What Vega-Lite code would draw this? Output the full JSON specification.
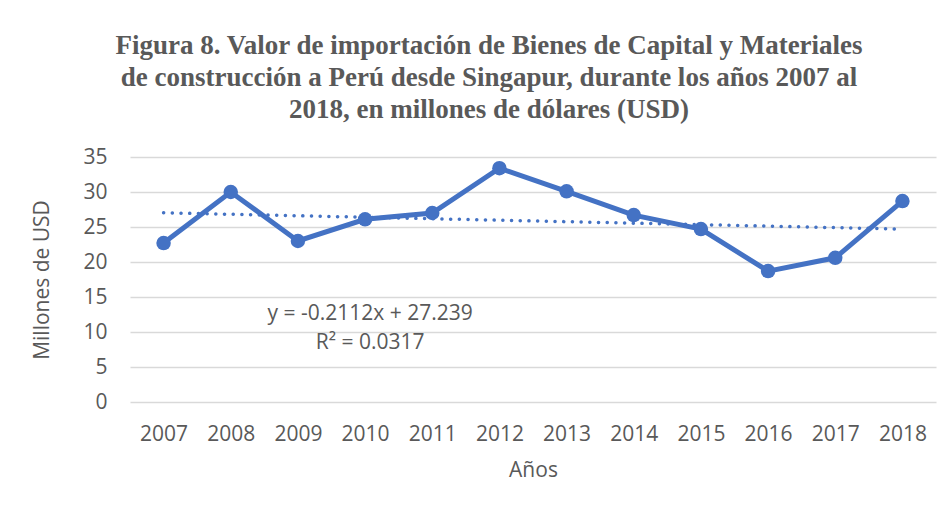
{
  "$schema": "https://vega.github.io/schema/vega-lite/v6.json",
  "width": 806,
  "height": 245,
  "autosize": "none",
  "padding": {"left": 130, "top": 157, "right": 15, "bottom": 110},
  "background": "white",
  "title": {
    "text": [
      "Figura 8. Valor de importación de Bienes de Capital y Materiales",
      "de construcción a Perú desde Singapur, durante los años 2007 al",
      "2018, en millones de dólares (USD)"
    ],
    "font": "Liberation Serif",
    "fontSize": 27,
    "fontWeight": "bold",
    "color": "#595959",
    "anchor": "middle",
    "dx": -44,
    "offset": 22,
    "lineHeight": 32
  },
  "encoding": {
    "x": {
      "field": "year", "type": "ordinal",
      "scale": {"type": "point", "padding": 0.5},
      "axis": {
        "title": "Años", "labelAngle": 0, "domain": false, "ticks": false,
        "labelPadding": 21, "titlePadding": 15,
        "labelFont": "Open Sans", "labelFontSize": 21, "labelColor": "#595959",
        "titleFont": "Open Sans", "titleFontSize": 21, "titleColor": "#595959", "titleFontWeight": "normal"
      }
    },
    "y": {
      "field": "value", "type": "quantitative",
      "scale": {"domain": [0, 35]},
      "axis": {
        "title": "Millones de USD", "values": [0, 5, 10, 15, 20, 25, 30, 35],
        "labelOverlap": false,
        "domain": false, "ticks": false, "labelPadding": 23, "titlePadding": 30,
        "gridColor": "#d9d9d9", "gridWidth": 1.5,
        "labelFont": "Open Sans", "labelFontSize": 21, "labelColor": "#595959",
        "titleFont": "Open Sans", "titleFontSize": 21, "titleColor": "#595959", "titleFontWeight": "normal"
      }
    }
  },
  "layer": [
    {
      "data": {"values": [{"year": "2007", "value": 27.03}, {"year": "2018", "value": 24.70}]},
      "mark": {"type": "line", "color": "#4472C4", "strokeWidth": 3.5, "strokeDash": [0.1, 8.6], "strokeCap": "round"}
    },
    {
      "data": {
        "values": [
          {"year": "2007", "value": 22.7},
          {"year": "2008", "value": 30.0},
          {"year": "2009", "value": 23.0},
          {"year": "2010", "value": 26.1},
          {"year": "2011", "value": 27.0},
          {"year": "2012", "value": 33.4},
          {"year": "2013", "value": 30.1},
          {"year": "2014", "value": 26.7},
          {"year": "2015", "value": 24.7},
          {"year": "2016", "value": 18.7},
          {"year": "2017", "value": 20.6},
          {"year": "2018", "value": 28.7}
        ]
      },
      "mark": {"type": "line", "color": "#4472C4", "strokeWidth": 5, "point": {"filled": true, "size": 210, "color": "#4472C4", "opacity": 1}}
    },
    {
      "data": {
        "values": [
          {"year": "2010", "value": 12.6, "label": "y = -0.2112x + 27.239"},
          {"year": "2010", "value": 8.4, "label": "R² = 0.0317"}
        ]
      },
      "mark": {"type": "text", "font": "Open Sans", "fontSize": 21, "color": "#595959", "dx": 5, "baseline": "middle", "align": "center"},
      "encoding": {
        "text": {"field": "label"}
      }
    }
  ],
  "config": {"view": {"stroke": null}}
}
